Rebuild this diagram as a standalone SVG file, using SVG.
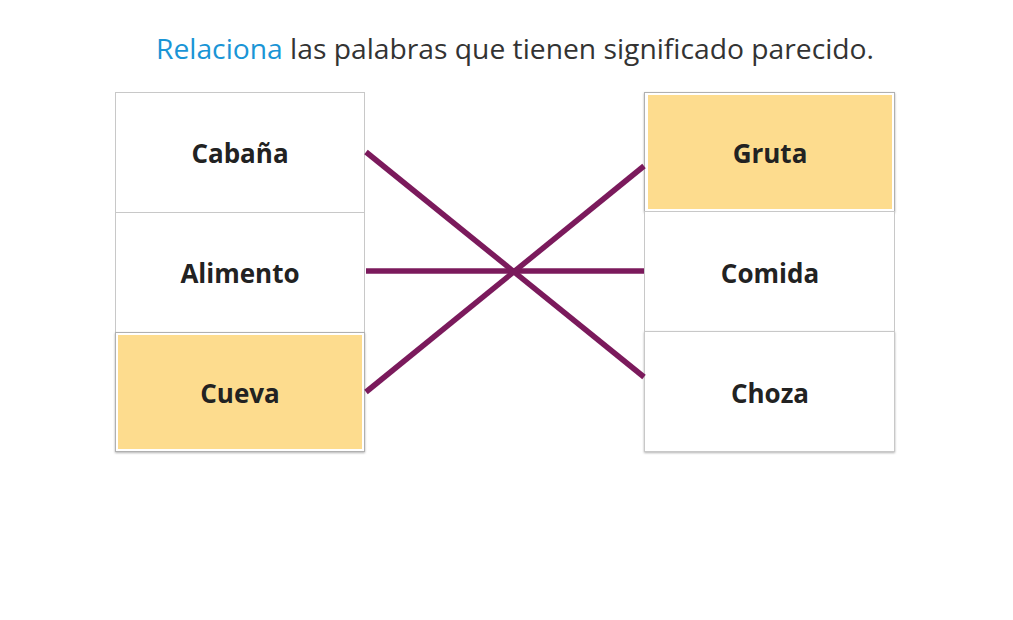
<svg xmlns="http://www.w3.org/2000/svg" width="1013" height="620" viewBox="0 0 1013 620">
<defs>
<filter id="sh" x="-5%" y="-5%" width="110%" height="110%"><feDropShadow dx="0" dy="1" stdDeviation="1" flood-color="#000" flood-opacity="0.3"/></filter>
</defs>
<style>
.box{fill:#fff;stroke:#c8c8c8;stroke-width:1}
.sel{fill:#fff;stroke:#b0b0b0;stroke-width:1}
.fill{fill:#fddc8e}
.lbl{font-family:"Open Sans","Noto Sans",sans-serif;font-weight:bold;font-size:26px;fill:#222;text-anchor:middle}
.ln{stroke:#7b1a5c;stroke-width:5.5;stroke-linecap:butt}
.title{font-family:"Open Sans","Noto Sans",sans-serif;font-size:28px;fill:#333}
</style>
<rect width="1013" height="620" fill="#fff"/>
<text class="title" x="515" y="59" text-anchor="middle" textLength="718" lengthAdjust="spacingAndGlyphs"><tspan fill="#1a95d6">Relaciona</tspan> las palabras que tienen significado parecido.</text>
<g id="n-cabana"><rect class="box" x="115.5" y="92.5" width="249" height="120"/><text class="lbl" x="240" y="163">Cabaña</text></g>
<g id="n-alimento"><rect class="box" x="115.5" y="212.5" width="249" height="120"/><text class="lbl" x="240" y="283">Alimento</text></g>
<g id="n-cueva"><rect class="sel" x="115.5" y="332.5" width="249" height="119" filter="url(#sh)"/><rect class="fill" x="118" y="335" width="244" height="114"/><text class="lbl" x="240" y="403">Cueva</text></g>
<g id="n-gruta"><rect class="sel" x="644.5" y="92.5" width="250" height="119" filter="url(#sh)"/><rect class="fill" x="648" y="95" width="244" height="114"/><text class="lbl" x="770" y="163">Gruta</text></g>
<g id="n-comida"><rect class="box" x="644.5" y="211.5" width="250" height="120"/><text class="lbl" x="770" y="283">Comida</text></g>
<g id="n-choza"><rect class="box" x="644.5" y="331.5" width="250" height="120" filter="url(#sh)"/><text class="lbl" x="770" y="403">Choza</text></g>
<g id="connectors">
<line class="ln" x1="366" y1="152" x2="644" y2="377"/>
<line class="ln" x1="366" y1="271" x2="644" y2="271"/>
<line class="ln" x1="366" y1="392" x2="644" y2="166"/>
</g>
</svg>
